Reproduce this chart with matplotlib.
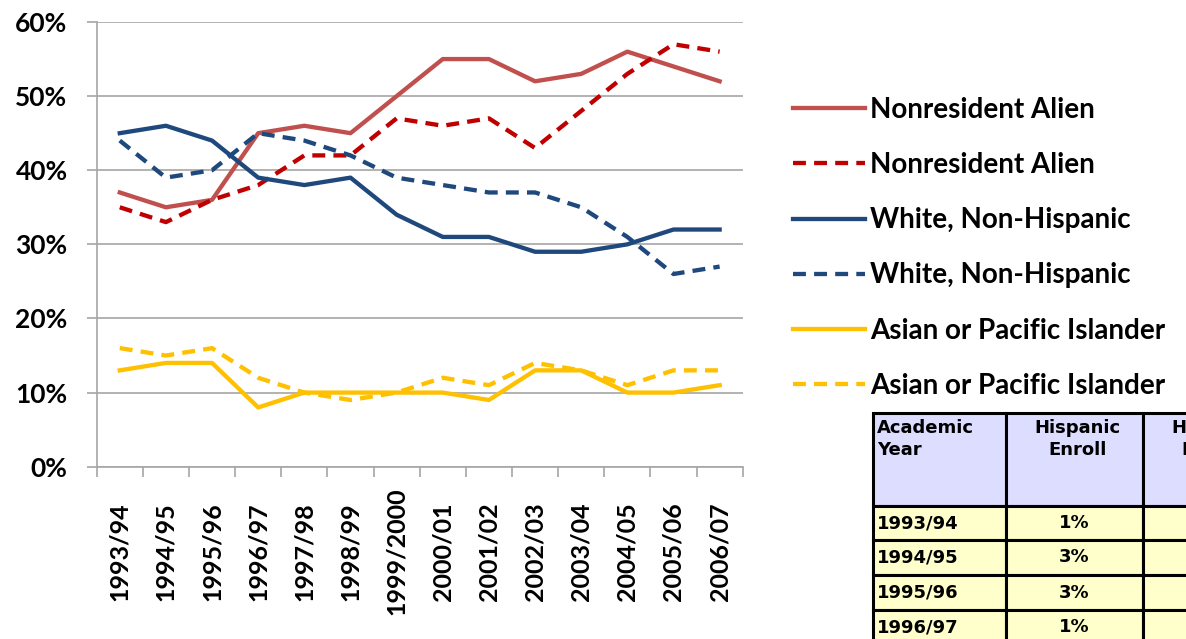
import matplotlib
matplotlib.use('Agg')
import matplotlib.pyplot as plt
from matplotlib.patches import Rectangle

years = ["1993/94", "1994/95", "1995/96", "1996/97", "1997/98", "1998/99", "1999/2000",
         "2000/01", "2001/02", "2002/03", "2003/04", "2004/05", "2005/06", "2006/07"]

nonres_solid = [37, 35, 36, 45, 46, 45, 50, 55, 55, 52, 53, 56, 54, 52]
nonres_dash = [35, 33, 36, 38, 42, 42, 47, 46, 47, 43, 48, 53, 57, 56]
white_solid = [45, 46, 44, 39, 38, 39, 34, 31, 31, 29, 29, 30, 32, 32]
white_dash = [44, 39, 40, 45, 44, 42, 39, 38, 37, 37, 35, 31, 26, 27]
asian_solid = [13, 14, 14, 8, 10, 10, 10, 10, 9, 13, 13, 10, 10, 11]
asian_dash = [16, 15, 16, 12, 10, 9, 10, 12, 11, 14, 13, 11, 13, 13]

y_ticks = [0, 10, 20, 30, 40, 50, 60]

table_header = ["Academic\nYear", "Hispanic\nEnroll", "Hispanic\nRetain"]
table_years = ["1993/94", "1994/95", "1995/96", "1996/97"]
hisp_enroll = ["1%", "3%", "3%", "1%"]

W, H = 1186, 639
fig = plt.figure(figsize=(W / 100, H / 100), dpi=100)
ax = fig.add_axes([96.7 / W, 172.3 / H, (742.7 - 96.7) / W, (466.7 - 22) / H])

x = list(range(len(years)))
lw = 3.1
dash = (3, 1.9)
ax.plot(x, nonres_solid, color='#C0504D', lw=lw, label='Nonresident Alien')
ax.plot(x, nonres_dash, color='#C00000', lw=lw, dashes=dash, label='Nonresident Alien')
ax.plot(x, white_solid, color='#1F497D', lw=lw, label='White, Non-Hispanic')
ax.plot(x, white_dash, color='#1F497D', lw=lw, dashes=dash, label='White, Non-Hispanic')
ax.plot(x, asian_solid, color='#FFC000', lw=lw, label='Asian or Pacific Islander')
ax.plot(x, asian_dash, color='#FFC000', lw=lw, dashes=dash, label='Asian or Pacific Islander')

gray = '#A6A6A6'
ax.set_xlim(-0.5, len(years) - 0.5)
ax.set_ylim(0, 60)
ax.set_yticks(y_ticks)
ax.set_yticklabels([f"{v}%" for v in y_ticks], fontfamily='Lato', fontweight='bold', fontsize=19)
ax.set_xticks(x)
ax.set_xticklabels(years, rotation=90, va='center', ha='center',
                   fontfamily='Lato', fontweight='bold', fontsize=18)
ax.set_xticks([i - 0.5 for i in range(len(years) + 1)], minor=True)
ax.tick_params(axis='x', which='major', length=0, pad=61)
ax.tick_params(axis='x', which='minor', length=7, color=gray, width=1.2, direction='out')
ax.tick_params(axis='y', length=7, color=gray, width=1.2, pad=14)
ax.yaxis.grid(True, color=gray, lw=1.2)
ax.set_axisbelow(True)
for s in ['top', 'right']:
    ax.spines[s].set_visible(False)
for s in ['left', 'bottom']:
    ax.spines[s].set_color(gray)
    ax.spines[s].set_linewidth(1.2)

fig.legend(loc='upper left', bbox_to_anchor=(793 / W, 1 - 97 / H), frameon=False,
           prop={'family': 'Lato', 'weight': 'bold', 'size': 20},
           handlelength=2.6, handletextpad=0.18, labelspacing=1.05, borderpad=0,
           borderaxespad=0)

# table in pixel coordinates
tab = fig.add_axes([0, 0, 1, 1])
tab.set_xlim(0, W)
tab.set_ylim(H, 0)
tab.axis('off')
col_x = [873, 1006, 1143, 1280]
row_y = [413, 506, 540, 575, 610, 645]
for r in range(len(row_y) - 1):
    for c in range(len(col_x) - 1):
        fc = '#DDDDFF' if r == 0 else '#FFFFCC'
        tab.add_patch(Rectangle((col_x[c], row_y[r]), col_x[c + 1] - col_x[c],
                                row_y[r + 1] - row_y[r], facecolor=fc,
                                edgecolor='black', lw=2.2))
tfont = dict(fontfamily='DejaVu Sans', fontweight='bold', fontsize=13)
tab.text(col_x[0] + 4, row_y[0] + 6, table_header[0], ha='left', va='top',
         linespacing=1.3, **tfont)
for c in (1, 2):
    tab.text((col_x[c] + col_x[c + 1]) / 2 + 3, row_y[0] + 6, table_header[c], ha='center',
             va='top', linespacing=1.3, **tfont)
for r, (yr, val) in enumerate(zip(table_years, hisp_enroll)):
    yc = (row_y[r + 1] + row_y[r + 2]) / 2
    tab.text(col_x[0] + 4, yc, yr, ha='left', va='center', **tfont)
    tab.text((col_x[1] + col_x[2]) / 2, yc, val, ha='center', va='center', **tfont)

fig.savefig('out.png', dpi=100)
